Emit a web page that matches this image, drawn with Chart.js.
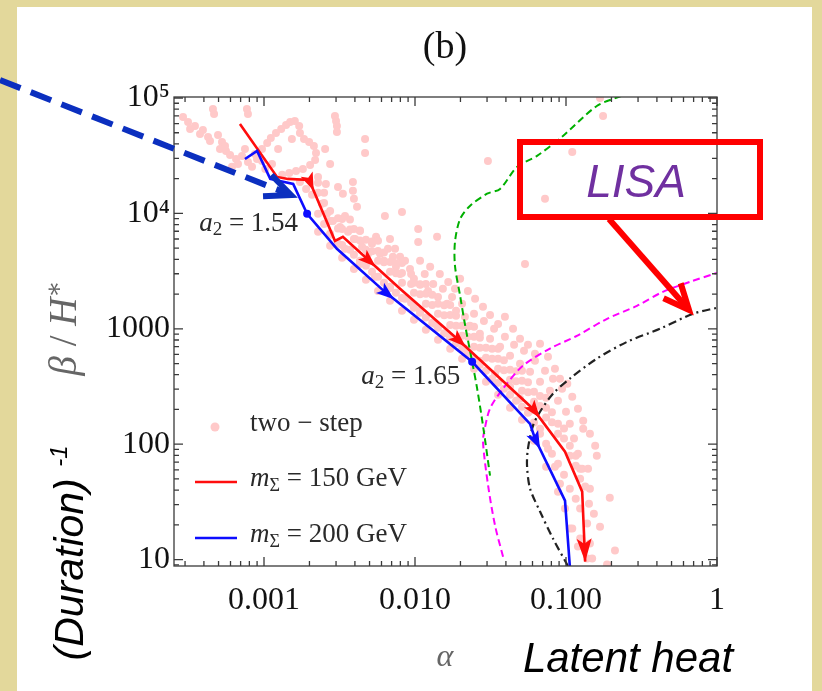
<!DOCTYPE html>
<html>
<head>
<meta charset="utf-8">
<script src="https://cdn.jsdelivr.net/npm/chart.js@4.4.1/dist/chart.umd.min.js"></script>
<style>
  html, body { margin: 0; padding: 0; background: #e3d89b; }
  canvas { display: block; }
</style>
</head>
<body>
<canvas id="c" width="822" height="691"></canvas>
<script>
const SERIF = '"Liberation Serif", "DejaVu Serif", serif';
const SANS = '"Liberation Sans", Arial, sans-serif';

// axis ticks
const xTickVals = [0.001, 0.01, 0.1, 1];
const xTickText = ["0.001", "0.010", "0.100", "1"];
const yTickVals = [10, 100, 1000, 1e4, 1e5];
const yTickText = ["10", "100", "1000", "10⁴", "10⁵"];

// two-step scan points: [alpha, beta/H*]
const twoStep = [
  // upper-left cloud
  [2.91e-4, 68400], [3.14e-4, 61900], [3.49e-4, 57200], [3.94e-4, 52800], [4.26e-4, 45900],
  [4.59e-4, 80300], [4.67e-4, 72700], [4.96e-4, 47800], [5.27e-4, 41600], [5.11e-4, 36200],
  [5.60e-4, 34700], [5.96e-4, 32100], [6.53e-4, 29600], [7.15e-4, 31500], [7.71e-4, 80300],
  [7.83e-4, 72700], [7.83e-4, 27900], [8.33e-4, 25300], [6.14e-4, 25300],
  [3.24e-4, 53900], [3.77e-4, 48800], [4.39e-4, 42400], [5.52e-4, 38400], [6.73e-4, 26800],
  [7.48e-4, 36200], [1.02e-3, 24300], [1.13e-3, 26800], [1.24e-3, 36200], [1.53e-3, 44200],
  [2.54e-3, 36200], [2.74e-3, 26800],
  // hook
  [8.99e-4, 29600], [9.70e-4, 36200], [1.05e-3, 40800], [1.11e-3, 45100], [1.20e-3, 49800],
  [1.30e-3, 53900], [1.40e-3, 58300], [1.49e-3, 61900], [1.60e-3, 63200], [1.71e-3, 57200],
  [1.73e-3, 49800], [1.84e-3, 44200], [1.99e-3, 41600], [2.14e-3, 38400], [2.21e-3, 33400],
  [2.18e-3, 29000], [2.02e-3, 26300], [1.81e-3, 24300], [1.63e-3, 23300], [1.47e-3, 22400],
  [1.32e-3, 21600], [8.71e-4, 32700], [9.70e-4, 28500],
  // scattered
  [2.95e-3, 69800], [3.00e-3, 63200], [3.04e-3, 57200], [3.04e-3, 50800], [4.67e-3, 44200],
  [4.67e-3, 33400], [3.09e-3, 16900], [3.33e-3, 14800], [3.88e-3, 18700], [3.88e-3, 15700],
  [3.94e-3, 13400], [4.13e-3, 11400], [6.32e-3, 9510], [8.20e-3, 10300], [0.0105, 7340],
  [0.0105, 5660], [0.0140, 6270], [0.0304, 28500], [0.0726, 13400], [0.110, 34000],
  [0.176, 69800], [0.168, 100000], [0.0535, 3650],
  // main band
  [2.42e-3, 12100], [2.61e-3, 9910], [2.86e-3, 8610], [3.19e-3, 7640], [3.44e-3, 9510],
  [3.60e-3, 6920], [4.01e-3, 6010], [4.32e-3, 7050], [4.46e-3, 5130], [4.89e-3, 4460],
  [5.19e-3, 5450], [5.52e-3, 6270], [5.87e-3, 4460], [6.23e-3, 3880], [6.62e-3, 4930],
  [7.14e-3, 4200], [7.48e-3, 3440], [7.96e-3, 2990], [8.59e-3, 3880], [9.27e-3, 3300],
  [9.84e-3, 2710], [0.0108, 2410], [0.0116, 2990], [0.0122, 2130], [0.0132, 2450],
  [0.0142, 1890], [0.0153, 2220], [0.0163, 1650], [0.0176, 1890], [0.0187, 1430],
  [0.0205, 1650], [0.0214, 1270], [0.0231, 1060], [0.0246, 1350], [0.0269, 906],
  [0.0286, 1170], [0.0314, 819], [0.0334, 1000], [0.0366, 698], [0.0394, 853],
  [0.0426, 583], [0.0453, 726], [0.0496, 498], [0.0527, 646], [0.0578, 425],
  [0.0623, 528], [0.0673, 348], [0.0726, 433], [0.0783, 291], [0.0820, 369],
  [0.0885, 238], [0.0942, 303], [0.100, 191], [0.106, 150], [0.113, 112],
  [0.120, 82.8], [0.128, 61.4], [0.134, 42.9], [0.142, 30.5], [0.138, 20.5],
  [0.144, 13.8], [0.149, 10.2],
  [2.74e-3, 6650], [3.44e-3, 4930], [4.32e-3, 3650], [5.43e-3, 2820], [6.83e-3, 2310],
  [8.59e-3, 1820], [0.0108, 1430], [0.0136, 1100], [0.0171, 853], [0.0214, 671],
  [0.0269, 528], [0.0339, 408], [0.0426, 315], [0.0496, 248], [0.0578, 195],
  [0.0673, 136], [0.0760, 91.4], [0.0845, 63.8], [0.0912, 45.5], [0.0985, 27.7],
  [0.110, 18.6], [0.120, 13.0],
  [2.28e-3, 18400], [2.28e-3, 15100], [2.28e-3, 9910], [2.28e-3, 6920],
  [2.74e-3, 10500], [2.74e-3, 8610], [2.74e-3, 6520], [2.74e-3, 5240],
  [3.29e-3, 8960], [3.29e-3, 7340], [3.29e-3, 5330], [3.29e-3, 4120],
  [3.94e-3, 7340], [3.94e-3, 6010], [3.94e-3, 4380], [3.94e-3, 3300],
  [4.73e-3, 5900], [4.73e-3, 4830], [4.73e-3, 3510], [4.73e-3, 2660],
  [5.69e-3, 4730], [5.69e-3, 3880], [5.69e-3, 2820], [5.69e-3, 2130], [5.69e-3, 5780],
  [6.83e-3, 3800], [6.83e-3, 3120], [6.83e-3, 2260], [6.83e-3, 1750],
  [8.20e-3, 3050], [8.20e-3, 2500], [8.20e-3, 1850], [8.20e-3, 1430], [8.20e-3, 3720],
  [9.84e-3, 2500], [9.84e-3, 2050], [9.84e-3, 1520], [9.84e-3, 1200],
  [0.0118, 2010], [0.0118, 1650], [0.0118, 1250], [0.0118, 980], [0.0118, 2450],
  [0.0142, 1650], [0.0142, 1350], [0.0142, 1020], [0.0142, 803],
  [0.0171, 1320], [0.0171, 1080], [0.0171, 836], [0.0171, 671], [0.0171, 1610],
  [0.0205, 1060], [0.0205, 869], [0.0205, 671], [0.0205, 550],
  [0.0246, 853], [0.0246, 698], [0.0246, 550], [0.0246, 451], [0.0246, 1040],
  [0.0295, 685], [0.0295, 561], [0.0295, 433], [0.0295, 348],
  [0.0355, 550], [0.0355, 451], [0.0355, 341], [0.0355, 268], [0.0355, 671],
  [0.0426, 442], [0.0426, 362], [0.0426, 268], [0.0426, 207],
  [0.0511, 355], [0.0511, 291], [0.0511, 211], [0.0511, 163], [0.0511, 433],
  [0.0614, 285], [0.0614, 233], [0.0614, 154], [0.0614, 107],
  [0.0738, 207], [0.0738, 170], [0.0738, 101], [0.0738, 63.8], [0.0738, 253],
  [0.0885, 150], [0.0885, 123], [0.0885, 67.8], [0.0885, 38.8],
  [0.106, 97.1], [0.106, 79.4], [0.106, 41.2], [0.106, 18.6],
  [0.124, 61.4], [0.124, 50.3], [0.124, 27.7], [0.124, 15.2],
  [2.50e-3, 15100], [2.50e-3, 12300], [2.50e-3, 8110],
  [3.09e-3, 9060], [3.09e-3, 7410], [3.09e-3, 5450],
  [3.71e-3, 8850], [3.71e-3, 7260], [3.71e-3, 4830],
  [4.32e-3, 7110], [4.32e-3, 5830], [4.32e-3, 3880],
  [5.19e-3, 5720], [5.19e-3, 4690], [5.19e-3, 3120],
  [6.23e-3, 4590], [6.23e-3, 3770], [6.23e-3, 2500],
  [7.48e-3, 3700], [7.48e-3, 3030], [7.48e-3, 2050],
  [9.42e-3, 2990], [9.42e-3, 2450], [9.42e-3, 1680],
  [0.0108, 2430], [0.0108, 1990], [0.0108, 1380],
  [0.0130, 1970], [0.0130, 1610], [0.0130, 1130],
  [0.0156, 1600], [0.0156, 1310], [0.0156, 914],
  [0.0187, 1300], [0.0187, 1060], [0.0187, 749],
  [0.0224, 1040], [0.0224, 853], [0.0224, 608],
  [0.0269, 836], [0.0269, 685], [0.0269, 488],
  [0.0324, 671], [0.0324, 550], [0.0324, 369],
  [0.0388, 533], [0.0388, 437], [0.0388, 303],
  [0.0467, 429], [0.0467, 351], [0.0467, 238],
  [0.0560, 344], [0.0560, 282], [0.0560, 187],
  [0.0673, 261], [0.0673, 214], [0.0673, 123],
  [0.0807, 189], [0.0807, 155], [0.0807, 82.8],
  [0.0970, 137], [0.0970, 112], [0.0970, 54.4],
  [0.116, 79.4], [0.116, 65.2], [0.116, 33.7],
  // chevrons above the red path
  [6.83e-3, 6010], [7.38e-3, 4930], [7.96e-3, 4200], [0.0108, 3880], [0.0126, 3440],
  [0.0146, 2990], [0.0166, 2550], [0.0184, 2220], [0.0199, 2710], [0.0224, 2130],
  [0.0250, 1820], [0.0282, 1550], [0.0314, 1320], [0.0355, 1100], [0.0394, 1270],
  [0.0446, 1000], [0.0496, 819], [0.0560, 726], [0.0623, 608], [0.0673, 741],
  [0.0760, 573], [0.0845, 451], [0.0912, 369], [0.102, 334], [0.110, 258],
  [0.120, 203], [0.130, 160], [0.144, 123], [0.156, 97.1],
  // lower right
  [0.130, 136], [0.160, 79.4], [0.195, 34.4], [0.144, 41.2], [0.168, 19.3],
  [0.211, 12.0], [0.138, 10.2], [0.187, 9.06], [0.153, 25.0], [0.140, 61.4],
  [1.73e-3, 18700], [1.90e-3, 16300], [2.08e-3, 14500], [2.28e-3, 20700], [2.57e-3, 18000],
];

// benchmark paths
const red150 = [
  [6.93e-4, 59600], [1.22e-3, 20700], [1.44e-3, 19900], [1.99e-3, 19500], [2.95e-3, 5780],
  [3.33e-3, 6270], [4.81e-3, 4040], [7.96e-3, 2220], [0.0190, 819], [0.0604, 203],
  [0.0985, 86], [0.128, 38.8], [0.134, 9.6],
];
const red150Arrows = [3, 6, 8, 9, 12];

const blue200 = [
  [7.48e-4, 29600], [9.0e-4, 34800], [1.10e-3, 19900], [1.56e-3, 18000], [1.93e-3, 9910],
  [3.04e-3, 4930], [6.32e-3, 2090], [0.0239, 518], [0.0578, 150], [0.0623, 112],
  [0.0985, 32.4], [0.106, 8.8],
];
const blue200Arrows = [6, 9];

const blueDots = [[1.93e-3, 9910], [0.0239, 518]];
const dotLabels = ["a_2 = 1.54", "a_2 = 1.65"];

// detector sensitivity curves
const greenCurve = [
  [0.232, 104000], [0.160, 85300], [0.0955, 46900], [0.0643, 31500], [0.0474, 25300],
  [0.0366, 16300], [0.030, 14800], [0.0231, 11600], [0.0199, 8960], [0.0184, 5660],
  [0.0184, 3510], [0.0199, 1930], [0.0214, 1100], [0.0239, 518], [0.0258, 303],
  [0.0282, 145], [0.0314, 53.3],
];
const magentaCurve = [
  [0.0383, 10.6], [0.0339, 19.7], [0.0305, 43.7], [0.0282, 105], [0.0290, 137],
  [0.0314, 204], [0.0383, 303], [0.0519, 479], [0.0783, 673], [0.118, 869],
  [0.187, 1220], [0.295, 1580], [0.438, 2090], [0.662, 2550], [1.0, 3050],
];
const blackCurve = [
  [0.103, 8.8], [0.0820, 15.2], [0.0673, 26.1], [0.0578, 41.3], [0.0552, 65.2],
  [0.0560, 91.7], [0.0605, 145], [0.0673, 191], [0.0820, 274], [0.106, 370],
  [0.160, 551], [0.254, 771], [0.419, 1000], [0.693, 1350], [1.0, 1520],
];

const seriesNames = ["two − step", "m_Σ = 150 GeV", "m_Σ = 200 GeV"];

const PINK = "#ffc9c9", RED = "#ff0d0d", BLUE = "#0d0dff";
const xy = (arr) => arr.map(([x, y]) => ({ x, y }));

// "a_2 = 1.54" -> italic a, subscript 2, roman rest
function richParts(str, size) {
  const m = str.match(/^(\S)_(\S)(.*)$/);
  if (!m) return [{ t: str, f: `${size}px ${SERIF}` }];
  return [
    { t: m[1], f: `italic ${size}px ${SERIF}` },
    { t: m[2], f: `${Math.round(size * 0.7)}px ${SERIF}`, dy: size * 0.24 },
    { t: m[3], f: `${size}px ${SERIF}` },
  ];
}
function drawParts(ctx, parts, x, y, align) {
  let w = 0;
  parts.forEach((p) => { ctx.font = p.f; p.w = ctx.measureText(p.t).width; w += p.w; });
  let cx = align === "right" ? x - w : align === "center" ? x - w / 2 : x;
  parts.forEach((p) => { ctx.font = p.f; ctx.fillText(p.t, cx, y + (p.dy || 0)); cx += p.w; });
}

// slide background: tan frame + white panel
const slideBg = {
  id: "slideBg",
  beforeDraw(chart) {
    const { ctx, width, height } = chart;
    ctx.save();
    ctx.fillStyle = "#e3d89b";
    ctx.fillRect(0, 0, width, height);
    ctx.fillStyle = "#ffffff";
    ctx.fillRect(17, 7, 795, height - 7);
    ctx.restore();
  },
};

// frame with inward major/minor ticks on all four sides
const frameTicks = {
  id: "frameTicks",
  afterDatasetsDraw(chart) {
    const { ctx, chartArea: a, scales: { x, y } } = chart;
    ctx.save();
    ctx.strokeStyle = "#3a3a3a";
    ctx.lineWidth = 1.3;
    ctx.strokeRect(a.left, a.top, a.right - a.left, a.bottom - a.top);
    ctx.beginPath();
    for (let e = -4; e <= 0; e++) {
      for (let k = 1; k <= 9; k++) {
        const v = k * Math.pow(10, e);
        if (v < x.min || v > x.max) continue;
        const px = x.getPixelForValue(v), len = k === 1 ? 9 : 5;
        ctx.moveTo(px, a.bottom); ctx.lineTo(px, a.bottom - len);
        ctx.moveTo(px, a.top); ctx.lineTo(px, a.top + len);
      }
    }
    for (let e = 0; e <= 5; e++) {
      for (let k = 1; k <= 9; k++) {
        const v = k * Math.pow(10, e);
        if (v < y.min || v > y.max) continue;
        const py = y.getPixelForValue(v), len = k === 1 ? 9 : 5;
        ctx.moveTo(a.left, py); ctx.lineTo(a.left + len, py);
        ctx.moveTo(a.right, py); ctx.lineTo(a.right - len, py);
      }
    }
    ctx.stroke();
    ctx.restore();
  },
};

// direction arrowheads along the benchmark paths
const pathArrows = {
  id: "pathArrows",
  afterDatasetsDraw(chart) {
    const { ctx, scales: { x, y } } = chart;
    ctx.save();
    chart.data.datasets.forEach((ds) => {
      if (!ds.arrowAt) return;
      const px = ds.data.map((p) => [x.getPixelForValue(p.x), y.getPixelForValue(p.y)]);
      ds.arrowAt.forEach((i) => {
        const last = i === px.length - 1;
        const a = last ? px[i - 1] : px[i], b = last ? px[i] : px[i + 1];
        const ang = Math.atan2(b[1] - a[1], b[0] - a[0]);
        const L = last ? 23 : 18, W = last ? 7.5 : 6.5;
        const c = Math.cos(ang), s = Math.sin(ang);
        const tip = last ? px[i] : [px[i][0] + c * L * 0.65, px[i][1] + s * L * 0.65];
        const base = [tip[0] - c * L, tip[1] - s * L];
        const notch = [tip[0] - c * L * 0.78, tip[1] - s * L * 0.78];
        ctx.fillStyle = ds.borderColor;
        ctx.beginPath();
        ctx.moveTo(tip[0], tip[1]);
        ctx.lineTo(base[0] - s * W, base[1] + c * W);
        ctx.lineTo(notch[0], notch[1]);
        ctx.lineTo(base[0] + s * W, base[1] - c * W);
        ctx.closePath();
        ctx.fill();
      });
    });
    ctx.restore();
  },
};

// labels, legend and slide annotations
const overlay = {
  id: "overlay",
  afterDraw(chart) {
    const { ctx, chartArea: a, scales: { x, y } } = chart;
    ctx.save();
    ctx.textBaseline = "middle";

    // panel title
    ctx.fillStyle = "#111";
    drawParts(ctx, [{ t: "(b)", f: `38px ${SERIF}` }], 445, 48, "center");

    // dot annotations
    ctx.fillStyle = "#2a2a2a";
    blueDots.forEach(([vx, vy], i) => {
      const px = x.getPixelForValue(vx), py = y.getPixelForValue(vy);
      const off = i === 0 ? [-9, 10] : [-12, 15];
      drawParts(ctx, richParts(dotLabels[i], 27), px + off[0], py + off[1], "right");
    });

    // legend
    const lx = a.left + 21, rows = [427, 482, 538];
    chart.data.datasets.filter((d) => d.legendRow !== undefined).forEach((d) => {
      const ry = rows[d.legendRow];
      if (d.showLine) {
        ctx.strokeStyle = d.borderColor; ctx.lineWidth = 2.6;
        ctx.beginPath(); ctx.moveTo(lx, ry); ctx.lineTo(lx + 42, ry); ctx.stroke();
      } else {
        ctx.fillStyle = d.backgroundColor;
        ctx.beginPath(); ctx.arc(lx + 20, ry, 4.5, 0, Math.PI * 2); ctx.fill();
      }
      ctx.fillStyle = "#2a2a2a";
      const parts = d.label.includes("_")
        ? [{ t: "m", f: `italic 27px ${SERIF}` }, { t: "Σ", f: `18px ${SERIF}`, dy: 7 }, { t: d.label.split(/_\S/)[1], f: `27px ${SERIF}` }]
        : [{ t: d.label, f: `27px ${SERIF}` }];
      drawParts(ctx, parts, lx + 55, ry - 3, "left");
    });

    // axis titles
    ctx.fillStyle = "#666";
    drawParts(ctx, [{ t: "α", f: `italic 32px ${SERIF}` }], 445, 658, "center");
    ctx.save();
    ctx.translate(66, 328);
    ctx.rotate(-Math.PI / 2);
    drawParts(ctx, [
      { t: "β", f: `italic 39px ${SERIF}` },
      { t: " / ", f: `39px ${SERIF}` },
      { t: "H", f: `italic 39px ${SERIF}` },
      { t: "∗", f: `25px ${SERIF}`, dy: -11 },
    ], 0, 0, "center");
    ctx.restore();

    // slide annotations (sans italic)
    ctx.fillStyle = "#000";
    drawParts(ctx, [{ t: "Latent heat", f: `italic 42px ${SANS}` }], 628, 660, "center");
    ctx.save();
    ctx.translate(72, 553);
    ctx.rotate(-Math.PI / 2);
    drawParts(ctx, [
      { t: "(Duration) ", f: `italic 41px ${SANS}` },
      { t: "-1", f: `italic 24px ${SANS}`, dy: -12 },
    ], 0, 0, "center");
    ctx.restore();

    // LISA callout
    ctx.strokeStyle = "#ff0000";
    ctx.lineWidth = 6;
    ctx.strokeRect(520, 142, 240, 75);
    ctx.fillStyle = "#7030a0";
    drawParts(ctx, [{ t: "LISA", f: `italic 46px ${SANS}` }], 636, 184, "center");
    const arrow = (x0, y0, x1, y1, len, spread) => {
      const ang = Math.atan2(y1 - y0, x1 - x0);
      ctx.beginPath(); ctx.moveTo(x0, y0); ctx.lineTo(x1, y1); ctx.stroke();
      ctx.setLineDash([]);
      ctx.beginPath();
      ctx.moveTo(x1 - len * Math.cos(ang - spread), y1 - len * Math.sin(ang - spread));
      ctx.lineTo(x1, y1);
      ctx.lineTo(x1 - len * Math.cos(ang + spread), y1 - len * Math.sin(ang + spread));
      ctx.stroke();
    };
    arrow(609, 219, 689, 310, 28, 0.42);

    // blue dashed pointer
    ctx.strokeStyle = "#0b2fbf";
    ctx.lineWidth = 6;
    ctx.setLineDash([22, 11]);
    arrow(0, 80, 291, 195, 28, 0.42);
    ctx.restore();
  },
};

new Chart(document.getElementById("c"), {
  type: "scatter",
  data: {
    datasets: [
      { label: seriesNames[0], legendRow: 0, data: xy(twoStep), backgroundColor: PINK, pointRadius: 4, pointBorderWidth: 0, order: 10 },
      { data: xy(greenCurve), showLine: true, borderColor: "#00b000", borderWidth: 2, borderDash: [7, 4], pointRadius: 0, tension: 0.3, order: 5 },
      { data: xy(magentaCurve), showLine: true, borderColor: "#ff00ff", borderWidth: 2, borderDash: [7, 4], pointRadius: 0, tension: 0.3, order: 5 },
      { data: xy(blackCurve), showLine: true, borderColor: "#222", borderWidth: 2.2, borderDash: [8, 4, 2, 4], pointRadius: 0, tension: 0.3, order: 5 },
      { label: seriesNames[1], legendRow: 1, data: xy(red150), arrowAt: red150Arrows, showLine: true, borderColor: RED, borderWidth: 2.6, pointRadius: 0, order: 2 },
      { label: seriesNames[2], legendRow: 2, data: xy(blue200), arrowAt: blue200Arrows, showLine: true, borderColor: BLUE, borderWidth: 2.6, pointRadius: 0, order: 1 },
      { data: xy(blueDots), backgroundColor: BLUE, pointRadius: 4, pointBorderWidth: 0, order: 0 },
    ],
  },
  options: {
    responsive: false,
    animation: false,
    devicePixelRatio: 1,
    layout: { padding: { left: 0, top: 97, right: 105, bottom: 0 } },
    plugins: { legend: { display: false }, tooltip: { enabled: false } },
    scales: {
      x: {
        type: "logarithmic",
        min: 2.535e-4,
        max: 1,
        grid: { display: false, drawTicks: false },
        border: { display: false },
        afterBuildTicks: (s) => { s.ticks = xTickVals.map((v) => ({ value: v })); },
        afterFit: (s) => { s.height = 125; },
        ticks: {
          autoSkip: false, maxRotation: 0, padding: 15, color: "#111",
          font: { family: SERIF, size: 32 },
          callback: (v) => xTickText[xTickVals.indexOf(v)],
        },
      },
      y: {
        type: "logarithmic",
        min: 8.8,
        max: 1.02e5,
        grid: { display: false, drawTicks: false },
        border: { display: false },
        afterBuildTicks: (s) => { s.ticks = yTickVals.map((v) => ({ value: v })); },
        afterFit: (s) => { s.width = 174; },
        ticks: {
          autoSkip: false, padding: 4, color: "#111",
          font: { family: SERIF, size: 32 },
          callback: (v) => yTickText[yTickVals.indexOf(v)],
        },
      },
    },
  },
  plugins: [slideBg, frameTicks, pathArrows, overlay],
});
</script>
</body>
</html>
